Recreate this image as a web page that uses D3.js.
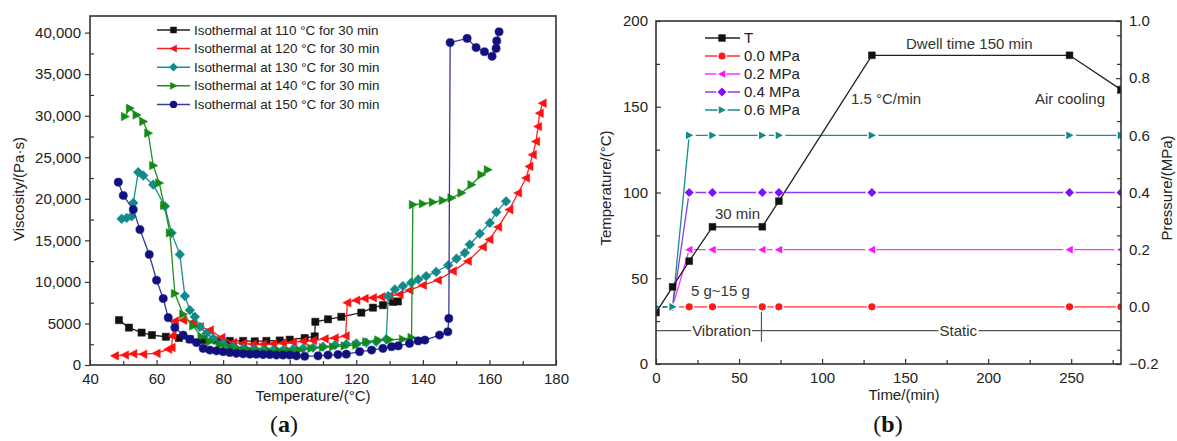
<!DOCTYPE html>
<html>
<head>
<meta charset="utf-8">
<script src="https://cdn.jsdelivr.net/npm/d3@7"></script>
<style>
  html, body { margin: 0; padding: 0; background: #fff; }
  svg { display: block; font-family: "Liberation Sans", Arial, sans-serif; }
  .tick text { fill: #222; }
</style>
</head>
<body>
<svg id="fig" width="1177" height="441"></svg>
<script>
// ---------- (a) viscosity vs temperature, [temperature °C, viscosity Pa·s] ----------
const iso110 = [[48.7,5400],[51.7,4500],[55.5,3900],[58.6,3600],[62.8,3400],[66.7,3250],[70,3100],[74,3000],[78,2950],[82,2900],[86,2900],[89.5,2850],[93,2900],[97,2950],[100,3050],[104.5,3250],[107.5,3450],[107.7,5200],[111.5,5500],[115.5,5800],[121.5,6300],[125,6900],[128,7200],[131,7600],[132.5,7650]];
const iso120 = [[47.5,1100],[50.5,1200],[53,1350],[56,1300],[60,1400],[63.5,1900],[64.5,2100],[64.8,3500],[65.5,5300],[68,5400],[71,5200],[73,4600],[76,4200],[79.5,3300],[83,2700],[86,2600],[89,2500],[92,2500],[95,2550],[98,2650],[101,2750],[104,2850],[107,2950],[110.5,3150],[113.5,3250],[116.8,3500],[117.3,7500],[120,7800],[122.5,8000],[125,8100],[127.5,8200],[130,8300],[133,8500],[136,9000],[140,9600],[144.5,10200],[149,11300],[153.5,12500],[158,14200],[160,15100],[162.6,16600],[166,18700],[168.6,20700],[171,22500],[172,23900],[173,25300],[174,26900],[174.6,28700],[175.1,30300],[176,31500]];
const iso130 = [[49.5,17600],[51,17700],[52.5,17900],[53,19500],[54.5,23200],[56,22800],[59,21700],[62.5,19100],[64.5,15900],[67,13300],[68.5,8300],[70,6600],[71.5,5800],[73,4600],[75,3800],[77,3200],[80,2600],[83,2200],[86,2000],[89,1900],[92,1800],[95,1800],[98,1800],[101,1900],[104,2000],[107,2100],[110,2200],[113.6,2400],[117,2500],[120,2600],[123,2700],[126,2800],[129,3100],[129.6,8300],[131.6,9100],[134,9500],[136.5,9900],[138.6,10300],[141,10700],[144,11200],[147.6,12000],[150.1,12800],[152.6,13500],[154.1,14500],[157.1,15800],[160.1,17100],[162.1,18400],[165,19700]];
const iso140 = [[50.5,29900],[52,30900],[54,30100],[56,29300],[57.5,27900],[59,24000],[60.8,21900],[62.3,19200],[64,15900],[65.5,8600],[68,6100],[71,4700],[73.5,3400],[76,2800],[79,2400],[82,2100],[85,1900],[88,1800],[91,1700],[94,1700],[97,1700],[100,1700],[103,1800],[106.5,2000],[110,2100],[113,2200],[116.5,2300],[120,2400],[123,2800],[126.6,3000],[130,3050],[134,3100],[136.6,3300],[137,19300],[140,19400],[143,19600],[146,19800],[148.6,20100],[151.6,20700],[154.6,21700],[157.6,22900],[159.5,23500]];
const iso150 = [[48.5,22000],[50,20400],[53,18700],[55,16300],[57.8,13300],[60,10200],[62,8000],[63.5,5700],[65.5,4500],[68,3600],[70,3100],[72,2700],[74,2000],[76,1800],[78,1700],[80,1600],[82,1500],[84,1400],[86,1350],[88,1300],[90,1300],[92,1250],[94,1250],[96,1200],[98,1200],[100,1200],[102,1100],[104.5,1050],[108.5,1100],[111.5,1200],[114.5,1250],[117,1300],[121,1600],[124.6,1800],[128,2000],[130.6,2200],[132.6,2300],[136,2600],[138.6,2900],[140.6,3000],[145,3600],[147.5,4000],[147.8,5600],[148.2,38800],[153.3,39300],[156,38200],[158.5,37700],[160.8,37150],[162,38100],[162.2,39000],[162.9,40100]];
const isoLabels = ["Isothermal at 110 °C for 30 min","Isothermal at 120 °C for 30 min","Isothermal at 130 °C for 30 min","Isothermal at 140 °C for 30 min","Isothermal at 150 °C for 30 min"];
const viscTicks = [0,5000,10000,15000,20000,25000,30000,35000,40000];
const tempTicksA = [40,60,80,100,120,140,160,180];

// ---------- (b) process schedule ----------
const timeT = [0,10,20,34,64,74,130,249,280];
const tempT = [30,45,60,80,80,95,180,180,160];
const timeP = [0,10,20,34,64,74,130,249,280];
const p00 = [0,0,0,0,0,0,0,0,0];
const p02 = [0,0,0.2,0.2,0.2,0.2,0.2,0.2,0.2];
const p04 = [0,0,0.4,0.4,0.4,0.4,0.4,0.4,0.4];
const p06 = [0,0,0.6,0.6,0.6,0.6,0.6,0.6,0.6];
const legendB = ["T","0.0 MPa","0.2 MPa","0.4 MPa","0.6 MPa"];
const timeTicks = [0,50,100,150,200,250];
const tempTicksB = [0,50,100,150,200];
const pressTicks = [-0.2,0,0.2,0.4,0.6,0.8,1.0];

// ---------- helpers ----------
const svg = d3.select("#fig");

function symbolPath(type, s) {
  switch (type) {
    case "square": return `M${-s},${-s}h${2*s}v${2*s}h${-2*s}Z`;
    case "circle": return `M${s},0A${s},${s} 0 1,1 ${-s},0A${s},${s} 0 1,1 ${s},0Z`;
    case "diamond": { const d = s*1.25; return `M0,${-d}L${d},0L0,${d}L${-d},0Z`; }
    case "triR": return `M${-s*0.85},${-s}L${s*1.05},0L${-s*0.85},${s}Z`;
    case "triL": return `M${s*0.85},${-s}L${-s*1.05},0L${s*0.85},${s}Z`;
  }
}

function drawSeries(g, pts, x, y, color, lineColor, sym, size, halo) {
  g.append("path")
    .datum(pts)
    .attr("fill", "none")
    .attr("stroke", lineColor)
    .attr("stroke-width", 1.3)
    .attr("d", d3.line().x(d => x(d[0])).y(d => y(d[1])));
  g.selectAll(null).data(pts).enter().append("path")
    .attr("transform", d => `translate(${x(d[0])},${y(d[1])})`)
    .attr("d", symbolPath(sym, size))
    .attr("fill", color)
    .attr("stroke", halo ? "#fff" : color)
    .attr("stroke-width", halo ? 3 : 0.5)
    .attr("paint-order", "stroke");
}

function styleAxis(sel) {
  sel.select(".domain").remove();
  sel.selectAll(".tick line").attr("stroke", "#333").attr("stroke-width", 1.2);
  sel.selectAll(".tick text").attr("font-size", 15);
}

// ================= panel (a) =================
const xA = d3.scaleLinear().domain([40,180]).range([90,556]);
const yA = d3.scaleLinear().domain([0,42000]).range([365,16]);
const gA = svg.append("g");

// axes
const fmtVisc = d => d === 0 ? "0" : (d < 10000 ? String(d) : d3.format(",")(d));
gA.append("g").attr("transform","translate(0,365)")
  .call(d3.axisBottom(xA).tickValues(tempTicksA).tickSize(-5).tickPadding(8).tickFormat(d3.format("d")))
  .call(styleAxis);
gA.append("g").attr("transform","translate(0,365)")
  .call(d3.axisBottom(xA).tickValues(d3.range(50,180,20)).tickSize(-4).tickFormat(""))
  .call(styleAxis);
gA.append("g").attr("transform","translate(90,0)")
  .call(d3.axisLeft(yA).tickValues(viscTicks).tickSize(5).tickPadding(4).tickFormat(fmtVisc))
  .call(styleAxis);
gA.append("g").attr("transform","translate(90,0)")
  .call(d3.axisLeft(yA).tickValues(d3.range(2500,42000,5000)).tickSize(-4).tickFormat(""))
  .call(styleAxis);

const seriesA = [
  {pts: iso110, color: "#111",    line: "#222",    sym: "square", size: 3.6},
  {pts: iso120, color: "#ff1010", line: "#ff2020", sym: "triL",   size: 4.3},
  {pts: iso130, color: "#138a8a", line: "#1a9090", sym: "diamond",size: 3.9},
  {pts: iso140, color: "#138a13", line: "#1f8f1f", sym: "triR",   size: 4.3},
  {pts: iso150, color: "#10107f", line: "#3a3a99", sym: "circle", size: 4.1}
];
seriesA.forEach(s => drawSeries(gA, s.pts, xA, yA, s.color, s.line, s.sym, s.size, false));

// frame
gA.append("rect").attr("x",90).attr("y",16).attr("width",466).attr("height",349)
  .attr("fill","none").attr("stroke","#333").attr("stroke-width",1.6);

// legend
seriesA.forEach((s, i) => {
  const cy = 30 + i*18.6;
  gA.append("line").attr("x1",157).attr("x2",190).attr("y1",cy).attr("y2",cy)
    .attr("stroke", s.line).attr("stroke-width",1.5);
  gA.append("path").attr("transform",`translate(173.5,${cy})`).attr("d", symbolPath(s.sym, s.size*0.9))
    .attr("fill", s.color);
  gA.append("text").attr("x",194).attr("y",cy+4.6).attr("font-size",13.4).attr("fill","#222")
    .text(isoLabels[i]);
});

// titles
gA.append("text").attr("x",313).attr("y",401).attr("text-anchor","middle").attr("font-size",15).attr("fill","#222")
  .text("Temperature/(°C)");
gA.append("text").attr("transform","translate(24,189) rotate(-90)").attr("text-anchor","middle")
  .attr("font-size",15).attr("fill","#222").text("Viscosity/(Pa·s)");
const capA = gA.append("text").attr("x",284).attr("y",432).attr("text-anchor","middle")
  .attr("font-family","'Liberation Serif', 'DejaVu Serif', serif").attr("font-size",24).attr("fill","#111");
capA.append("tspan").text("(");
capA.append("tspan").attr("font-weight","bold").text("a");
capA.append("tspan").text(")");

// ================= panel (b) =================
const xB = d3.scaleLinear().domain([0,280]).range([656,1121]);
const yB = d3.scaleLinear().domain([0,200]).range([364,21]);
const yP = d3.scaleLinear().domain([-0.2,1.0]).range([364,21]);
const gB = svg.append("g");

gB.append("g").attr("transform","translate(0,364)")
  .call(d3.axisBottom(xB).tickValues(timeTicks).tickSize(-5).tickPadding(8).tickFormat(d3.format("d")))
  .call(styleAxis);
gB.append("g").attr("transform","translate(0,364)")
  .call(d3.axisBottom(xB).tickValues(d3.range(25,280,50)).tickSize(-4).tickFormat(""))
  .call(styleAxis);
gB.append("g").attr("transform","translate(656,0)")
  .call(d3.axisLeft(yB).tickValues(tempTicksB).tickSize(-5).tickPadding(8).tickFormat(d3.format("d")))
  .call(styleAxis);
gB.append("g").attr("transform","translate(656,0)")
  .call(d3.axisLeft(yB).tickValues(d3.range(25,200,50)).tickSize(-4).tickFormat(""))
  .call(styleAxis);
gB.append("g").attr("transform","translate(1121,0)")
  .call(d3.axisRight(yP).tickValues(pressTicks).tickSize(-5).tickPadding(8).tickFormat(d3.format(".1f")))
  .call(styleAxis);
gB.append("g").attr("transform","translate(1121,0)")
  .call(d3.axisRight(yP).tickValues(d3.range(-0.15,1.0,0.05).filter(v => Math.abs(Math.round(v*10)-v*10) > 0.01)).tickSize(-4).tickFormat(""))
  .call(styleAxis);

// plot clip
svg.append("defs").append("clipPath").attr("id","clipB")
  .append("rect").attr("x",656).attr("y",21).attr("width",465).attr("height",343);
const plotB = gB.append("g").attr("clip-path","url(#clipB)");

// vibration / static bar
const barY = yB(19.5);
plotB.append("line").attr("x1",xB(0)).attr("x2",xB(280)).attr("y1",barY).attr("y2",barY)
  .attr("stroke","#555").attr("stroke-width",1.2);
plotB.append("line").attr("x1",xB(63.5)).attr("x2",xB(63.5)).attr("y1",yB(33)).attr("y2",yB(13))
  .attr("stroke","#555").attr("stroke-width",1.2);
[["Vibration", xB(39.5)], ["Static", xB(182)]].forEach(([t, cx]) => {
  const tx = plotB.append("text").attr("x",cx).attr("y",barY+5).attr("text-anchor","middle")
    .attr("font-size",15).attr("fill","#333").text(t);
  const bb = tx.node().getBBox();
  plotB.insert("rect", "text").attr("x",bb.x-1).attr("y",barY-2).attr("width",bb.width+2).attr("height",4).attr("fill","#fff");
});

const toPts = (ts, vs) => ts.map((t, i) => [t, vs[i]]);
const seriesB = [
  {pts: toPts(timeP, p00), y: yP, color: "#ff1a1a", line: "#ff3030", sym: "circle",  size: 3.6, halo: true},
  {pts: toPts(timeP, p02), y: yP, color: "#ff10ff", line: "#ff30ff", sym: "triL",    size: 3.8, halo: true},
  {pts: toPts(timeP, p04), y: yP, color: "#7f10ff", line: "#8a3cf0", sym: "diamond", size: 3.6, halo: true},
  {pts: toPts(timeP, p06), y: yP, color: "#138a8a", line: "#1a8a8a", sym: "triR",    size: 3.8, halo: true},
  {pts: toPts(timeT, tempT), y: yB, color: "#111", line: "#222", sym: "square", size: 3.4, halo: false}
];
seriesB.forEach(s => drawSeries(plotB, s.pts, xB, s.y, s.color, s.line, s.sym, s.size, s.halo));

gB.append("rect").attr("x",656).attr("y",21).attr("width",465).attr("height",343)
  .attr("fill","none").attr("stroke","#333").attr("stroke-width",1.6);

// legend
const legOrder = [4,0,1,2,3];
legOrder.forEach((k, i) => {
  const s = seriesB[k];
  const cy = 38 + i*18;
  gB.append("line").attr("x1",705).attr("x2",740).attr("y1",cy).attr("y2",cy)
    .attr("stroke", s.line).attr("stroke-width",1.5);
  gB.append("path").attr("transform",`translate(722,${cy})`).attr("d", symbolPath(s.sym, s.size))
    .attr("fill", s.color).attr("stroke", s.halo ? "#fff" : s.color).attr("stroke-width", s.halo ? 2.5 : 0.5)
    .attr("paint-order","stroke");
  gB.append("text").attr("x",744).attr("y",cy+5.3).attr("font-size",15).attr("fill","#222").text(legendB[i]);
});

// annotations
const notes = [
  ["Dwell time 150 min", 906, 49],
  ["1.5 °C/min", 851, 104],
  ["Air cooling", 1035, 104],
  ["30 min", 715, 219],
  ["5 g~15 g", 691, 296]
];
notes.forEach(([t, x, y]) => gB.append("text").attr("x",x).attr("y",y).attr("font-size",15).attr("fill","#333").text(t));

// titles
gB.append("text").attr("x",904).attr("y",400).attr("text-anchor","middle").attr("font-size",15).attr("fill","#222")
  .text("Time/(min)");
gB.append("text").attr("transform","translate(611,188) rotate(-90)").attr("text-anchor","middle")
  .attr("font-size",15).attr("fill","#222").text("Temperature/(°C)");
gB.append("text").attr("transform","translate(1172,188) rotate(-90)").attr("text-anchor","middle")
  .attr("font-size",15).attr("fill","#222").text("Pressure/(MPa)");
const capB = gB.append("text").attr("x",888).attr("y",432).attr("text-anchor","middle")
  .attr("font-family","'Liberation Serif', 'DejaVu Serif', serif").attr("font-size",24).attr("fill","#111");
capB.append("tspan").text("(");
capB.append("tspan").attr("font-weight","bold").text("b");
capB.append("tspan").text(")");
</script>
</body>
</html>
